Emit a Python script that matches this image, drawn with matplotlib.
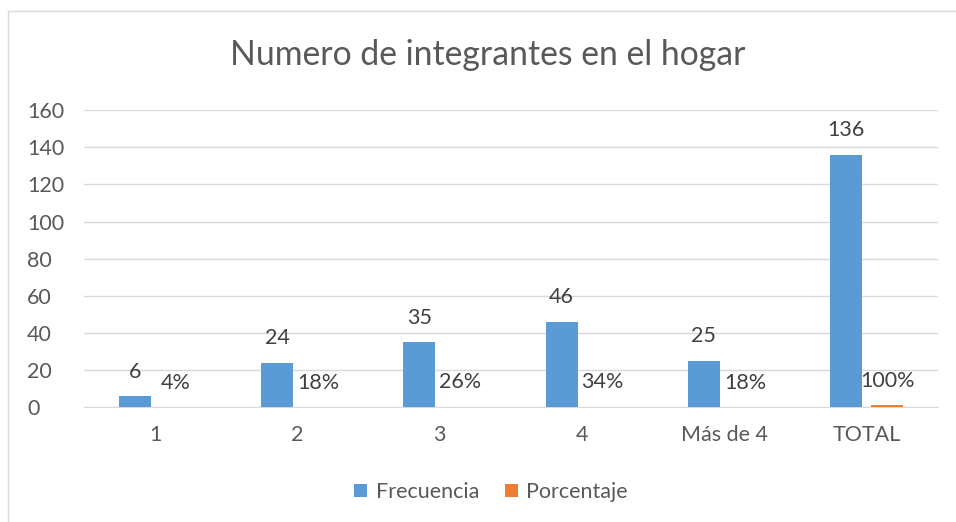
import numpy as np
import matplotlib.pyplot as plt
from matplotlib.patches import Rectangle

# Datos del gráfico
categorias = ['1', '2', '3', '4', 'Más de 4', 'TOTAL']
frecuencia = [6, 24, 35, 46, 25, 136]
porcentaje = [0.04, 0.18, 0.26, 0.34, 0.18, 1.00]
series = ['Frecuencia', 'Porcentaje']

azul = '#5B9BD5'
naranja = '#ED7D31'
gris_texto = '#595959'
gris_linea = '#D9D9D9'

plt.rcParams['font.family'] = ['Lato', 'DejaVu Sans']

fig = plt.figure(figsize=(9.56, 5.22), dpi=100)
ax = fig.add_axes([0.088, 0.220, 0.893, 0.569])

# Marco del área del gráfico
fig.patches.append(Rectangle((8 / 956, -0.1), 1.2, 1 - 11 / 522 + 0.1,
                             transform=fig.transFigure, fill=False,
                             edgecolor=gris_linea, lw=1))

x = np.arange(len(categorias))
ancho = 0.225
desp = 0.144

b1 = ax.bar(x - desp, frecuencia, ancho, color=azul, label=series[0], zorder=3)
b2 = ax.bar(x + desp, porcentaje, ancho, color=naranja, label=series[1], zorder=3)

for xi, v in zip(x, frecuencia):
    ax.annotate(str(v), (xi - desp, v), xytext=(0, 17.5), textcoords='offset points',
                ha='center', va='center', fontsize=15.5, color='#404040')
for xi, p in zip(x, porcentaje):
    ax.annotate(f"{p:.0%}", (xi + desp, p), xytext=(0, 17.5), textcoords='offset points',
                ha='center', va='center', fontsize=15.5, color='#404040')

ax.set_xlim(-0.5, len(categorias) - 0.5)
ax.set_ylim(0, 160)
ax.set_yticks(np.arange(0, 161, 20))
ax.set_xticks(x)
ax.set_xticklabels(categorias)
ax.tick_params(axis='both', length=0, labelsize=15.5, colors=gris_texto)
ax.tick_params(axis='x', pad=13)
ax.tick_params(axis='y', pad=41)
for lab in ax.get_yticklabels():
    lab.set_horizontalalignment('left')

ax.grid(axis='y', color=gris_linea, lw=1, zorder=0)
for s in ['top', 'right', 'left']:
    ax.spines[s].set_visible(False)
ax.spines['bottom'].set_color(gris_linea)

fig.text(488 / 956, 1 - 55 / 522, 'Numero de integrantes en el hogar', ha='center', va='center',
         fontsize=24.3, color=gris_texto)

fig.legend(handles=[b1, b2], loc='center', bbox_to_anchor=(491 / 956, 1 - 492 / 522), ncol=2,
           frameon=False, fontsize=15.5, handlelength=0.6, handleheight=0.6,
           handletextpad=0.4, columnspacing=1.2, labelcolor=gris_texto)

fig.savefig('out.png', dpi=100)
